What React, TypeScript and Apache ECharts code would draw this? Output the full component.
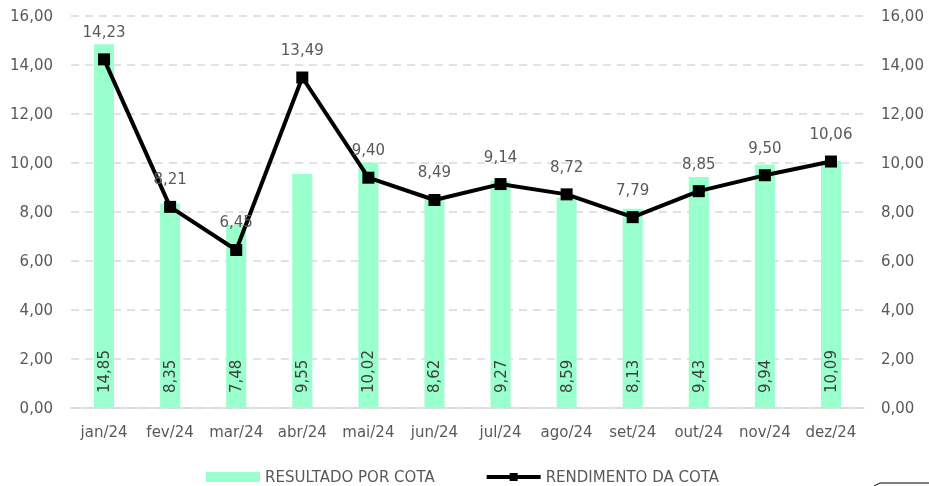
import React, { useEffect, useRef } from "react";
import * as echarts from "echarts";

const categories = ["jan/24", "fev/24", "mar/24", "abr/24", "mai/24", "jun/24", "jul/24", "ago/24", "set/24", "out/24", "nov/24", "dez/24"];
const resultadoPorCota = [14.85, 8.35, 7.48, 9.55, 10.02, 8.62, 9.27, 8.59, 8.13, 9.43, 9.94, 10.09];
const rendimentoDaCota = [14.23, 8.21, 6.45, 13.49, 9.4, 8.49, 9.14, 8.72, 7.79, 8.85, 9.5, 10.06];

const fmt = (v: number) => v.toFixed(2).replace(".", ",");
const FONT = "'DejaVu Sans', sans-serif";
const TXT = "#595959";

export default function App() {
  const ref = useRef<HTMLDivElement>(null);
  useEffect(() => {
    if (!ref.current) return;
    const chart = echarts.init(ref.current, undefined, { renderer: "svg" });
    const yAxisCommon = {
      type: "value" as const,
      min: 0,
      max: 16,
      interval: 2,
      axisLine: { show: false },
      axisTick: { show: false },
    };
    chart.setOption({
      animation: false,
      textStyle: { fontFamily: FONT },
      grid: { left: 71, right: 65, top: 16, bottom: 78, containLabel: false },
      legend: {
        left: 206,
        top: 469,
        padding: 0,
        itemGap: 50,
        itemWidth: 54,
        itemHeight: 10,
        textStyle: { color: TXT, fontSize: 15, fontFamily: FONT, lineHeight: 16 },
        data: [
          { name: "RESULTADO POR COTA", icon: "rect" },
          { name: "RENDIMENTO DA COTA", lineStyle: { width: 4, color: "#000" }, itemStyle: { color: "#000" } },
        ],
      },
      xAxis: {
        type: "category",
        data: categories,
        axisLine: { lineStyle: { color: "#d9d9d9", width: 1.5 } },
        axisTick: { show: false },
        axisLabel: { interval: 0, color: TXT, fontSize: 15, fontFamily: FONT, margin: 16 },
      },
      yAxis: [
        {
          ...yAxisCommon,
          position: "left",
          axisLabel: { formatter: (v: number) => fmt(v), color: TXT, fontSize: 15, fontFamily: FONT, margin: 18 },
          splitLine: { show: true, lineStyle: { color: "#d9d9d9", type: [8, 6], width: 1.5 } },
        },
        {
          ...yAxisCommon,
          position: "right",
          axisLabel: { formatter: (v: number) => fmt(v), color: TXT, fontSize: 15, fontFamily: FONT, margin: 17 },
          splitLine: { show: false },
        },
      ],
      series: [
        {
          name: "RESULTADO POR COTA",
          type: "bar",
          data: resultadoPorCota,
          barWidth: 20,
          itemStyle: { color: "#99FFCC" },
          label: {
            show: true,
            position: "insideBottom",
            rotate: 90,
            align: "left",
            verticalAlign: "middle",
            distance: 15,
            color: "#404040",
            fontSize: 15,
            fontFamily: FONT,
            formatter: (p: any) => fmt(p.value),
          },
        },
        {
          name: "RENDIMENTO DA COTA",
          type: "line",
          data: rendimentoDaCota,
          symbol: "rect",
          symbolSize: 12,
          lineStyle: { color: "#000", width: 4 },
          itemStyle: { color: "#000" },
          label: {
            show: true,
            position: "top",
            distance: 14,
            color: TXT,
            fontSize: 15,
            fontFamily: FONT,
            formatter: (p: any) => fmt(p.value),
          },
        },
      ],
      graphic: [
        {
          type: "polyline",
          shape: { points: [[874, 486], [880, 483], [929, 483]] },
          style: { stroke: "#000", lineWidth: 1, fill: "none" },
        },
      ],
    });
    return () => chart.dispose();
  }, []);
  return <div ref={ref} style={{ position: "fixed", left: 0, top: 0, width: 929, height: 486 }} />;
}
